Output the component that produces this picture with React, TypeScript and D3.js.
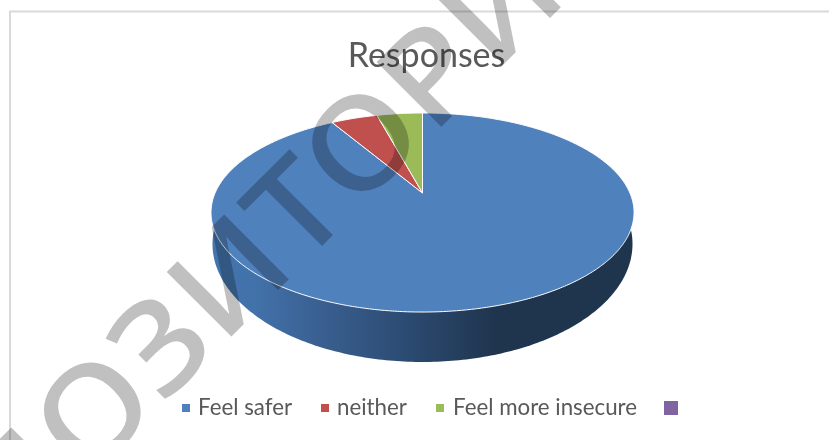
import React from "react";
import * as d3 from "d3";

const categories = ["Feel safer", "neither", "Feel more insecure", ""];
const shares = [91.5, 4.3, 4.2, 0];
const colors = ["#4f81bd", "#c0504d", "#9bbb59", "#8064a2"];
const title = "Responses";
const watermark = "РЕПОЗИТОРИЙ";

const W = 829;
const H = 440;

// tilted disc seen in perspective: apex is not in the middle of the ellipse
const cx = 422.5;
const apexY = 193;
const k = 0.196;
const A = 95.7;
const C = 207.4;

const project = (angle: number): [number, number] => {
  const u = Math.sin(angle);
  const v = Math.cos(angle);
  const w = 1 + k * v;
  return [cx + (C * u) / w, apexY - (A * v) / w];
};

const slicePath = (start: number, end: number) => {
  const n = Math.max(2, Math.ceil((end - start) / 0.01));
  const pts = d3.range(n + 1).map((i) => project(start + ((end - start) * i) / n));
  const line = d3.line();
  return `M${cx},${apexY}L` + (line(pts) as string).slice(1) + "Z";
};

const wallPath = () => {
  const pts: [number, number][] = d3.range(0, 361, 1).map((a) => {
    const t = (a * Math.PI) / 180;
    return [cx + 210 * Math.sin(t), 244 - 118 * Math.cos(t)];
  });
  return (d3.line()(pts) as string) + "Z";
};

export default function App() {
  const arcs = d3.pie<number>().sort(null)(shares);

  const legendX = [182, 321, 436, 664];
  const legendTextX = [198, 337, 453];

  return (
    <svg
      width={W}
      height={H}
      style={{ position: "absolute", left: 0, top: 0, background: "#fff" }}
      fontFamily="Lato, 'Noto Sans', sans-serif"
    >
      <defs>
        <linearGradient id="wall" gradientUnits="userSpaceOnUse" x1={212} x2={633} y1={0} y2={0}>
          <stop offset="0" stopColor="#4274ae" />
          <stop offset="0.1" stopColor="#4272aa" />
          <stop offset="0.25" stopColor="#3a6092" />
          <stop offset="0.47" stopColor="#2b4a70" />
          <stop offset="0.68" stopColor="#1f344d" />
          <stop offset="1" stopColor="#1f344d" />
        </linearGradient>
      </defs>

      <path d={`M10,${H}V11.5H${W}`} fill="none" stroke="#d9d9d9" strokeWidth={2} />

      <text x={426.5} y={67} textAnchor="middle" fontSize={34} fill="#595959">
        {title}
      </text>

      <path d={wallPath()} fill="url(#wall)" />
      {arcs
        .filter((d) => d.value > 0)
        .map((d, i) => (
          <path
            key={i}
            d={slicePath(d.startAngle, d.endAngle)}
            fill={colors[d.index]}
            stroke="#fff"
            strokeWidth={1}
            strokeLinejoin="round"
          />
        ))}

      {categories.map((c, i) => {
        const big = c === "";
        return (
          <g key={i}>
            <rect
              x={legendX[i]}
              y={big ? 401 : 404}
              width={big ? 14 : 8}
              height={big ? 14 : 8}
              fill={colors[i]}
            />
            {!big && (
              <text x={legendTextX[i]} y={415} fontSize={22.3} fill="#595959">
                {c}
              </text>
            )}
          </g>
        );
      })}

      <text
        transform="translate(-107,675) rotate(-45) scale(1.1,1)"
        fontFamily="'Noto Sans', sans-serif"
        fontSize={128}
        fontWeight={500}
        letterSpacing={1.5}
        fill="#c0c0c0"
        style={{ mixBlendMode: "multiply" }}
      >
        {watermark}
      </text>
    </svg>
  );
}
